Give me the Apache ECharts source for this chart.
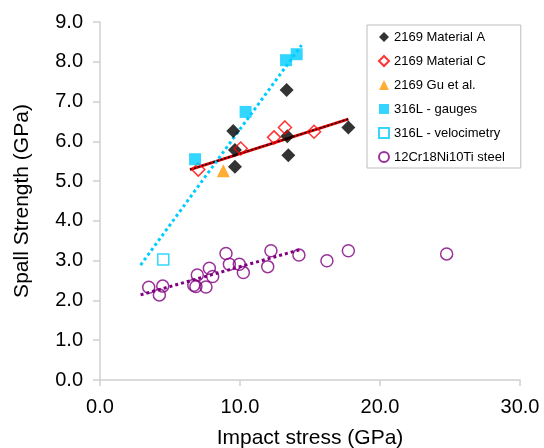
<!DOCTYPE html>
<html><head><meta charset="utf-8">
<script src="https://cdn.jsdelivr.net/npm/echarts@6/dist/echarts.min.js"></script>
<style>html,body{margin:0;padding:0;background:#fff}#c{width:544px;height:448px}</style>
</head><body><div id="c"></div>
<script>
const materialA = [[9.52,6.26],[9.64,5.78],[9.64,5.36],[13.33,7.29],[13.38,6.13],[13.45,5.65],[17.74,6.35]];
const materialC = [[7.02,5.29],[10.05,5.82],[12.43,6.10],[13.21,6.35],[15.29,6.24]];
const guEtAl = [[8.81,5.26]];
const gauges316L = [[6.79,5.55],[10.4,6.74],[13.29,8.04],[14.05,8.19]];
const velocimetry316L = [[4.52,3.03]];
const steel12Cr = [[3.48,2.33],[4.24,2.14],[4.48,2.36],[6.7,2.38],[6.85,2.35],[6.95,2.64],[7.57,2.34],[7.81,2.81],[8.05,2.60],
  [9.0,3.18],[9.24,2.91],[9.95,2.91],[10.24,2.70],[11.98,2.85],[12.21,3.25],[14.21,3.14],[16.21,3.0],[17.74,3.25],[24.76,3.17]];
const trendA = [[6.43,5.29],[17.74,6.56]];
const trendC = [[6.43,5.29],[17.74,6.56]];
const trend316L = [[2.9,2.89],[14.4,8.42]];
const trendSteel = [[2.9,2.14],[14.33,3.28]];
const names = ['2169 Material A','2169 Material C','2169 Gu et al.','316L - gauges','316L - velocimetry','12Cr18Ni10Ti steel'];
const xTicks = {min:0,max:30,interval:10};
const yTicks = {min:0,max:9,interval:1};

const font = '"Liberation Sans", Arial, sans-serif';
const chart = echarts.init(document.getElementById('c'), null, {renderer:'canvas'});
const lineS = (data, color, width, type, z) => ({type:'line', data, symbol:'none', silent:true, z,
  lineStyle:{color, width, type}, animation:false});
chart.setOption({
  animation:false,
  grid:{left:100,right:24,top:22,bottom:68,containLabel:false,outerBoundsMode:'none'},
  xAxis:{type:'value',min:xTicks.min,max:xTicks.max,interval:xTicks.interval,
    name:'Impact stress (GPa)',nameLocation:'middle',nameGap:48,
    nameTextStyle:{fontFamily:font,fontSize:21,color:'#000'},
    axisLine:{lineStyle:{color:'#d0d0d0',width:1.5}},
    axisTick:{show:true,length:6,lineStyle:{color:'#d0d0d0',width:1.5}},
    axisLabel:{fontFamily:font,fontSize:20,color:'#000',margin:17,formatter:v=>v.toFixed(1)},
    splitLine:{show:false}},
  yAxis:{type:'value',min:yTicks.min,max:yTicks.max,interval:yTicks.interval,
    name:'Spall Strength (GPa)',nameLocation:'middle',nameGap:67,
    nameTextStyle:{fontFamily:font,fontSize:21,color:'#000'},
    axisLine:{show:true,lineStyle:{color:'#d0d0d0',width:1.5}},
    axisTick:{show:true,length:7,lineStyle:{color:'#d0d0d0',width:1.5}},
    axisLabel:{fontFamily:font,fontSize:20,color:'#000',margin:17,formatter:v=>v.toFixed(1)},
    splitLine:{show:false}},
  legend:{orient:'vertical',left:367,top:25,data:names,itemWidth:10,itemHeight:10,itemGap:10,
    padding:[5,16,4,11],borderColor:'#bdbdbd',borderWidth:1,backgroundColor:'#fff',
    textStyle:{fontFamily:font,fontSize:13,color:'#000',lineHeight:14}},
  series:[
    lineS(trendC,'#e00000',3,'solid',2),
    lineS(trendA,'#000',1.5,[2,2],3),
    lineS(trend316L,'#00ccff',3,[3,3],2),
    lineS(trendSteel,'#800080',3,[3,3],2),
    {name:names[0],type:'scatter',data:materialA,symbol:'diamond',symbolSize:14,z:4,
      itemStyle:{color:'#000'}},
    {name:names[1],type:'scatter',data:materialC,symbol:'diamond',symbolSize:13,z:4,
      itemStyle:{color:'rgba(255,255,255,0)',borderColor:'#ff0000',borderWidth:1.5}},
    {name:names[2],type:'scatter',data:guEtAl,symbol:'triangle',symbolSize:13,z:4,
      itemStyle:{color:'#ff9900'}},
    {name:names[3],type:'scatter',data:gauges316L,symbol:'rect',symbolSize:12,z:4,
      itemStyle:{color:'#00ccff'}},
    {name:names[4],type:'scatter',data:velocimetry316L,symbol:'rect',symbolSize:11,z:4,
      itemStyle:{color:'rgba(255,255,255,0)',borderColor:'#00ccff',borderWidth:1.5}},
    {name:names[5],type:'scatter',data:steel12Cr,symbol:'circle',symbolSize:12,z:4,
      itemStyle:{color:'rgba(255,255,255,0)',borderColor:'#800080',borderWidth:1.5}}
  ]
});
</script></body></html>
